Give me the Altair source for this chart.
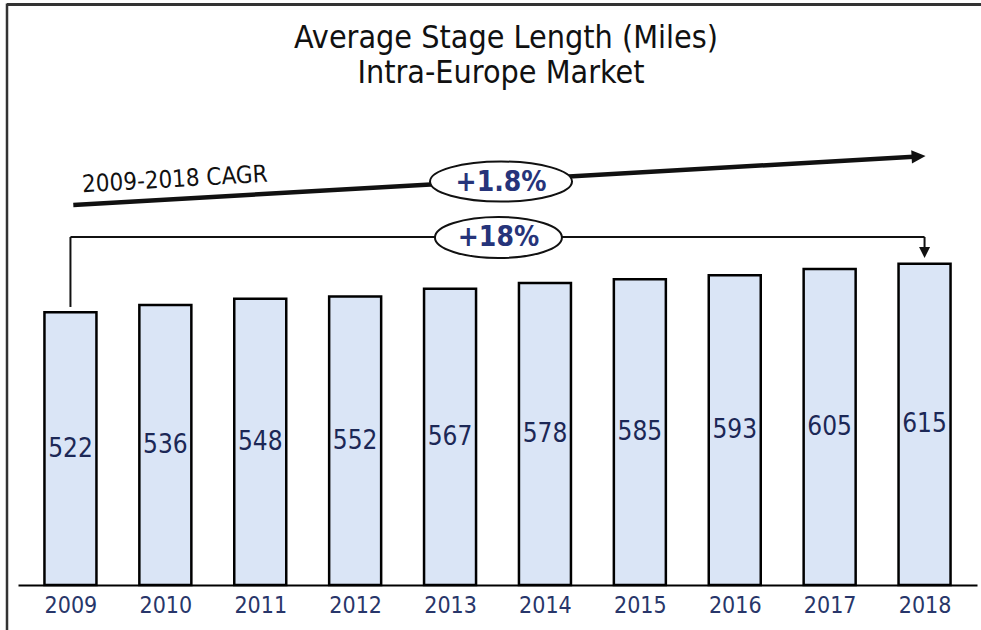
import altair as alt
import pandas as pd

# ---------------- data ----------------
years = [2009, 2010, 2011, 2012, 2013, 2014, 2015, 2016, 2017, 2018]
miles = [522, 536, 548, 552, 567, 578, 585, 593, 605, 615]
title_lines = ["Average Stage Length (Miles)", "Intra-Europe Market"]
cagr_label = "2009-2018 CAGR"
cagr_value = "+1.8%"
growth_value = "+18%"

df = pd.DataFrame({"year": years, "miles": miles})

# ---------------- styles ----------------
FONT = "DejaVu Sans Condensed, DejaVu Sans"
NAVY = "#1c2856"
LABEL_NAVY = "#28366a"
PCT_NAVY = "#26347a"
BAR_FILL = "#dae5f6"

XS = alt.Scale(domain=[2008.5, 2018.5], nice=False, zero=False)
YS = alt.Scale(domain=[0, 928.2], nice=False, zero=True)

x_axis = alt.Axis(values=years, format="d", ticks=False, tickSize=0, grid=False,
                  domainColor="black", domainWidth=2, labelFontSize=23,
                  labelColor=LABEL_NAVY, labelPadding=9, labelFont=FONT, title=None)

base = alt.Chart(df)

bars = base.mark_bar(size=52, fill=BAR_FILL, stroke="black", strokeWidth=2.5).encode(
    x=alt.X("year:Q", scale=XS, axis=x_axis),
    y=alt.Y("miles:Q", scale=YS, axis=None),
)

bar_labels = base.transform_calculate(mid="datum.miles / 2").mark_text(
    font=FONT, fontSize=26, color=NAVY, baseline="middle", align="center"
).encode(
    x=alt.X("year:Q", scale=XS),
    y=alt.Y("mid:Q", scale=YS),
    text=alt.Text("miles:Q", format="d"),
)

# ---------------- annotations (positions in data units) ----------------
def seg(x1, y1, x2, y2):
    return pd.DataFrame({"year": [x1], "miles": [y1], "year2": [x2], "miles2": [y2]})

def rule(d, width, color="#111111"):
    return alt.Chart(d).mark_rule(strokeWidth=width, color=color, strokeCap="butt").encode(
        x=alt.X("year:Q", scale=XS), x2="year2:Q",
        y=alt.Y("miles:Q", scale=YS), y2="miles2:Q",
    )

cagr_line = rule(seg(2009.03, 727.3, 2017.885, 819.7), 4.5)
arrow_right = alt.Chart(pd.DataFrame({"year": [2017.937], "miles": [820.3]})).mark_point(
    shape="M -1 -0.95 L 1 0 L -1 0.95 Z", size=196, angle=356.74,
    filled=True, fill="#111111", stroke=None, opacity=1,
).encode(x=alt.X("year:Q", scale=XS), y=alt.Y("miles:Q", scale=YS))

br_h = rule(seg(2009, 666.0, 2018, 666.0), 2)
br_l = rule(seg(2009, 666.0, 2009, 532.1), 2)
br_r = rule(seg(2018, 666.0, 2018, 645.0), 2)
arrow_down = alt.Chart(pd.DataFrame({"year": [2018], "miles": [636.4]})).mark_point(
    shape="M -1 -1 L 1 -1 L 0 1 Z", size=121,
    filled=True, fill="#111111", stroke=None, opacity=1,
).encode(x=alt.X("year:Q", scale=XS), y=alt.Y("miles:Q", scale=YS))

def ellipse_path(r):
    k = 0.5523
    return (f"M -1 0 C -1 {-k*r:.4f} {-k:.4f} {-r:.4f} 0 {-r:.4f} "
            f"C {k:.4f} {-r:.4f} 1 {-k*r:.4f} 1 0 "
            f"C 1 {k*r:.4f} {k:.4f} {r:.4f} 0 {r:.4f} "
            f"C {-k:.4f} {r:.4f} -1 {k*r:.4f} -1 0 Z")

ell1 = alt.Chart(pd.DataFrame({"year": [2013.537], "miles": [772.2]})).mark_point(
    shape=ellipse_path(0.282), size=142 ** 2, filled=True, fill="white",
    stroke="#111111", strokeWidth=2, opacity=1,
).encode(x=alt.X("year:Q", scale=XS), y=alt.Y("miles:Q", scale=YS))
ell2 = alt.Chart(pd.DataFrame({"year": [2013.51], "miles": [665.1]})).mark_point(
    shape=ellipse_path(0.323), size=127 ** 2, filled=True, fill="white",
    stroke="#111111", strokeWidth=2, opacity=1,
).encode(x=alt.X("year:Q", scale=XS), y=alt.Y("miles:Q", scale=YS))

pct_texts = alt.Chart(pd.DataFrame({
    "year": [2013.537, 2013.51], "miles": [772.2, 665.1], "t": [cagr_value, growth_value]
})).mark_text(font=FONT, fontSize=28, fontWeight="bold", color=PCT_NAVY,
              baseline="middle", align="center", dy=1).encode(
    x=alt.X("year:Q", scale=XS), y=alt.Y("miles:Q", scale=YS), text="t:N")

cagr_text = alt.Chart(pd.DataFrame({"year": [2010.1], "miles": [775.1], "t": [cagr_label]})).mark_text(
    font=FONT, fontSize=24, color="#111111", baseline="middle", align="center", angle=356.74
).encode(x=alt.X("year:Q", scale=XS), y=alt.Y("miles:Q", scale=YS), text="t:N")

one = pd.DataFrame({"k": [0]})
title1 = alt.Chart(pd.DataFrame({"t": [title_lines[0]]})).mark_text(
    font=FONT, fontSize=32, color="#111111", baseline="middle", align="center"
).encode(x=alt.value(488), y=alt.value(-62), text="t:N")
title2 = alt.Chart(pd.DataFrame({"t": [title_lines[1]]})).mark_text(
    font=FONT, fontSize=32, color="#111111", baseline="middle", align="center"
).encode(x=alt.value(483), y=alt.value(-27), text="t:N")

frame_top = alt.Chart(one).mark_rule(color="#333333", strokeWidth=3).encode(
    x=alt.value(-11), x2=alt.value(963), y=alt.value(-95.5))
frame_left = alt.Chart(one).mark_rule(color="#333333", strokeWidth=2.5).encode(
    x=alt.value(-11), y=alt.value(-96.5), y2=alt.value(530))

chart = alt.layer(
    bars, bar_labels, cagr_line, arrow_right, br_h, br_l, br_r, arrow_down,
    ell1, ell2, pct_texts, cagr_text, title1, title2, frame_top, frame_left,
).properties(
    width=959, height=485,
    padding={"left": 18, "top": 100, "right": 4, "bottom": 45},
    autosize=alt.AutoSizeParams(type="none"),
    background="white",
).configure_view(stroke=None)

chart.save("out.html", embed_options={"renderer": "svg", "actions": False})
